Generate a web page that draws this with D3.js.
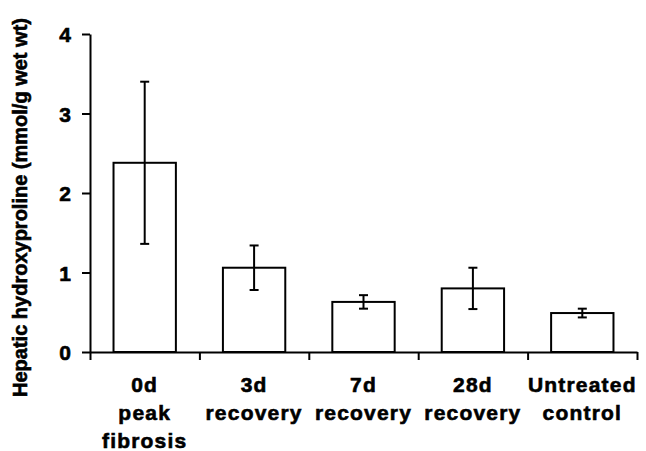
<!DOCTYPE html>
<html>
<head>
<meta charset="utf-8">
<script src="https://cdn.jsdelivr.net/npm/d3@7"></script>
<style>
	body { margin: 0; background: #fff; }
	text { font-family: "Liberation Sans", Arial, sans-serif; font-weight: bold; fill: #000; stroke: #000; stroke-width: 0.6px; }
</style>
</head>
<body>
<script>
	"use strict";

	// data
	var categories = [
		["0d", "peak", "fibrosis"],
		["3d", "recovery"],
		["7d", "recovery"],
		["28d", "recovery"],
		["Untreated", "control"]
	];
	var means = [2.38, 1.06, 0.63, 0.80, 0.49];
	var errs = [1.02, 0.28, 0.085, 0.26, 0.055];
	var yTicks = [0, 1, 2, 3, 4];
	var yLabel = "Hepatic hydroxyproline (mmol/g wet wt)";

	var width = 646, height = 451;
	var plot_left = 90, plot_right = 637, plot_top = 34, plot_bottom = 352;
	var line_w = 2;

	var svg = d3.select("body").append("svg")
		.attr("width", width).attr("height", height);

	var idx = d3.range(categories.length);

	var x = d3.scaleBand().domain(idx).range([plot_left, plot_right])
		.paddingInner(0.43).paddingOuter(0.215);
	var xEdge = d3.scaleLinear().domain([0, categories.length]).range([plot_left, plot_right]);
	var y = d3.scaleLinear().domain([0, 4]).range([plot_bottom, plot_top]);

	/////////////////////////////////////
	// bars
	svg.append("g").selectAll("rect")
		.data(idx).enter().append("rect")
		.attr("x", function(i) { return x(i); })
		.attr("y", function(i) { return y(means[i]); })
		.attr("width", x.bandwidth())
		.attr("height", function(i) { return y(0) - y(means[i]); })
		.attr("fill", "#fff")
		.attr("stroke", "#000")
		.attr("stroke-width", line_w);

	// error bars
	var cap = 4.5;
	var eb = svg.append("g").attr("stroke", "#000").attr("stroke-width", line_w);
	idx.forEach(function(i) {
		var cx = x(i) + x.bandwidth() / 2;
		var hi = y(means[i] + errs[i]), lo = y(means[i] - errs[i]);
		eb.append("line").attr("x1", cx).attr("x2", cx).attr("y1", hi).attr("y2", lo);
		eb.append("line").attr("x1", cx - cap).attr("x2", cx + cap).attr("y1", hi).attr("y2", hi);
		eb.append("line").attr("x1", cx - cap).attr("x2", cx + cap).attr("y1", lo).attr("y2", lo);
	});

	/////////////////////////////////////
	// axes
	var yAxis = svg.append("g")
		.attr("transform", "translate(" + plot_left + ",0)")
		.call(d3.axisLeft(y).tickValues(yTicks).tickFormat(d3.format("d"))
			.tickSize(8).tickSizeOuter(0).tickPadding(11));
	yAxis.select(".domain").attr("stroke-width", line_w);
	yAxis.selectAll(".tick line").attr("stroke-width", line_w);
	yAxis.selectAll(".tick text").attr("font-size", 21)
		.style("font-family", "'Liberation Sans', Arial, sans-serif")
		.style("font-weight", "bold").attr("dy", "0.36em");

	var xAxis = svg.append("g")
		.attr("transform", "translate(0," + plot_bottom + ")")
		.call(d3.axisBottom(xEdge).ticks(categories.length).tickFormat("")
			.tickSize(8).tickSizeOuter(0));
	xAxis.select(".domain").attr("stroke-width", line_w);
	xAxis.selectAll(".tick line").attr("stroke-width", line_w);

	// category labels
	var labels = svg.append("g").attr("font-size", 21).attr("text-anchor", "middle")
		.style("letter-spacing", "1.2px");
	idx.forEach(function(i) {
		var cx = x(i) + x.bandwidth() / 2;
		categories[i].forEach(function(t, k) {
			labels.append("text").attr("x", cx).attr("y", 392 + k * 28).text(t);
		});
	});

	// y title
	svg.append("text")
		.attr("transform", "translate(27," + ((15 + 400) / 2) + ") rotate(-90)")
		.attr("text-anchor", "middle")
		.attr("font-size", 20)
		.text(yLabel);
</script>
</body>
</html>
